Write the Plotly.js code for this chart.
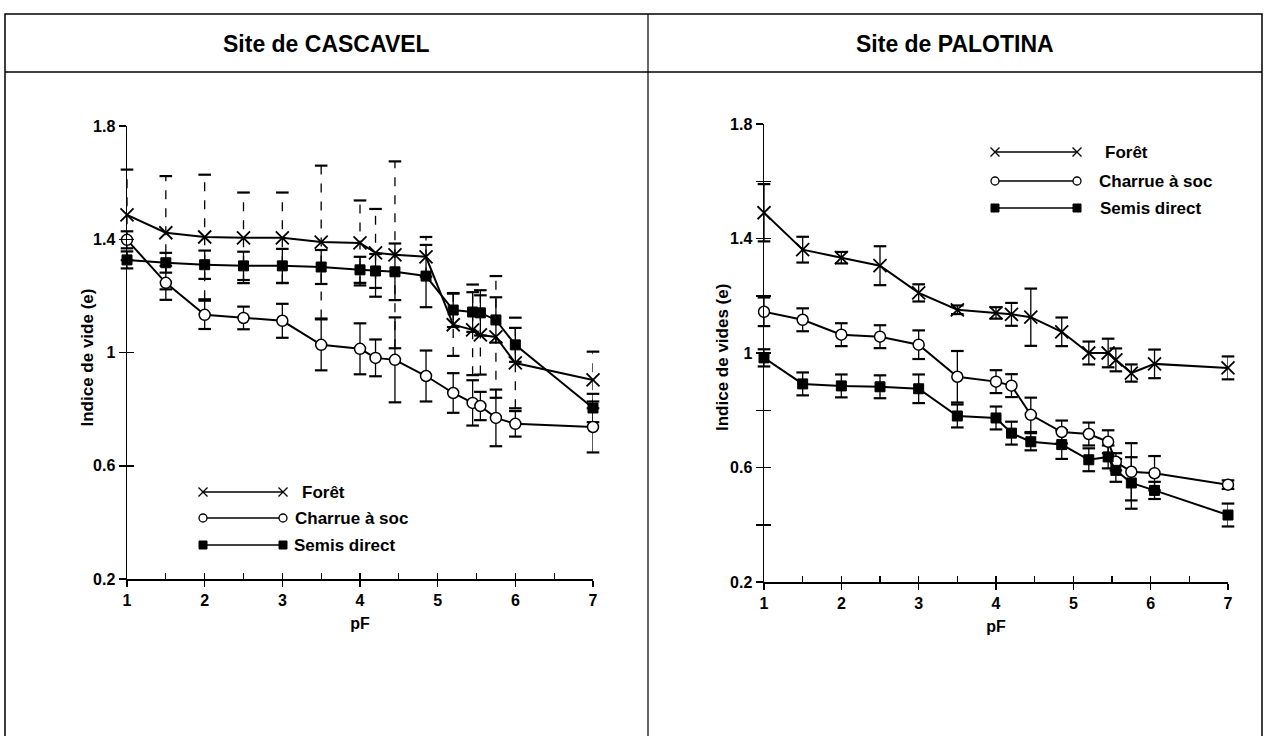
<!DOCTYPE html>
<html>
<head>
<meta charset="utf-8">
<script src="https://cdn.plot.ly/plotly-3.0.1.min.js"></script>
<style>html,body{margin:0;padding:0;background:#fff;}#chart{width:1268px;height:736px;}</style>
</head>
<body>
<div id="chart"></div>
<script>
// ---------------- DATA ----------------
const panelTitles = ["Site de CASCAVEL", "Site de PALOTINA"];
const yTitles = ["Indice de vide (e)", "Indice de vides (e)"];
const xTitle = "pF";
const seriesNames = ["Forêt", "Charrue à soc", "Semis direct"];
const xTickVals = [1, 2, 3, 4, 5, 6, 7];
const xTickText = ["1", "2", "3", "4", "5", "6", "7"];
const yTickValsLeft = [0.2, 0.6, 1, 1.4, 1.8];
const yTickTextLeft = ["0.2", "0.6", "1", "1.4", "1.8"];
const yTickValsRight = [0.2, 0.4, 0.6, 0.8, 1, 1.2, 1.4, 1.6, 1.8];
const yTickTextRight = ["0.2", "", "0.6", "", "1", "", "1.4", "", "1.8"];

// Cascavel
const pfCasc = [1, 1.5, 2, 2.5, 3, 3.5, 4, 4.2, 4.45, 4.85, 5.2, 5.45, 5.55, 5.75, 6.0, 7.0];
const foretCasc = [1.486, 1.423, 1.408, 1.405, 1.405, 1.39, 1.387, 1.352, 1.345, 1.338, 1.098, 1.08, 1.062, 1.055, 0.963, 0.903];
const foretCascErr = [0.16, 0.20, 0.22, 0.16, 0.16, 0.27, 0.15, 0.155, 0.33, 0.07, 0.11, 0.16, 0.14, 0.215, 0.16, 0.10];
const charrueCasc = [1.398, 1.246, 1.133, 1.122, 1.112, 1.027, 1.013, 0.981, 0.974, 0.917, 0.857, 0.822, 0.811, 0.769, 0.748, 0.737];
const charrueCascErr = [0.03, 0.06, 0.05, 0.04, 0.06, 0.09, 0.09, 0.065, 0.15, 0.09, 0.07, 0.08, 0.05, 0.10, 0.045, 0.09];
const semisCasc = [1.327, 1.317, 1.31, 1.306, 1.306, 1.302, 1.292, 1.288, 1.285, 1.27, 1.15, 1.143, 1.14, 1.115, 1.027, 0.804];
const semisCascErr = [0.03, 0.035, 0.05, 0.05, 0.06, 0.06, 0.046, 0.06, 0.10, 0.11, 0.06, 0.07, 0.08, 0.08, 0.06, 0.05];

// Palotina
const pfPalo = [1, 1.5, 2, 2.5, 3, 3.5, 4, 4.2, 4.45, 4.85, 5.2, 5.45, 5.55, 5.75, 6.05, 7.0];
const foretPalo = [1.49, 1.361, 1.333, 1.305, 1.21, 1.151, 1.14, 1.135, 1.125, 1.074, 1.0, 1.0, 0.976, 0.93, 0.962, 0.948];
const foretPaloErr = [0.10, 0.045, 0.02, 0.068, 0.03, 0.015, 0.02, 0.04, 0.10, 0.05, 0.04, 0.05, 0.04, 0.03, 0.05, 0.04];
const charruePalo = [1.144, 1.116, 1.064, 1.057, 1.029, 0.917, 0.90, 0.886, 0.784, 0.724, 0.717, 0.69, 0.62, 0.585, 0.58, 0.54];
const charruePaloErr = [0.05, 0.04, 0.04, 0.04, 0.05, 0.09, 0.04, 0.04, 0.06, 0.04, 0.04, 0.04, 0.03, 0.10, 0.06, 0.015];
const semisPalo = [0.983, 0.892, 0.885, 0.882, 0.875, 0.78, 0.773, 0.72, 0.69, 0.68, 0.627, 0.637, 0.59, 0.546, 0.52, 0.434];
const semisPaloErr = [0.03, 0.04, 0.04, 0.04, 0.05, 0.04, 0.04, 0.04, 0.03, 0.05, 0.04, 0.04, 0.04, 0.09, 0.03, 0.04];

// ---------------- STYLE / LAYOUT CONFIG ----------------
const W = 1268, H = 736;
const FONT = "Liberation Sans, Arial, Helvetica, sans-serif";
const markerStyles = [
  {symbol: "x-thin-open", size: 13, color: "#000", line: {color: "#000", width: 1.8}},
  {symbol: "circle", size: 11, color: "#fff", line: {color: "#000", width: 1.5}},
  {symbol: "square", size: 10, color: "#000", line: {color: "#000", width: 1}}
];
const legendMarkerStyles = [
  {symbol: "x-thin-open", size: 9, color: "#000", line: {color: "#000", width: 1.3}},
  {symbol: "circle", size: 8, color: "#fff", line: {color: "#000", width: 1.3}},
  {symbol: "square", size: 8, color: "#000", line: {color: "#000", width: 1}}
];
const panels = [
  {x0: 127, x1: 593, yTop: 126, yBot: 579, titleX: 87},
  {x0: 764, x1: 1228, yTop: 124, yBot: 582, titleX: 722}
];
const legends = [
  {xa: 203, xb: 283, rows: [492, 518, 545], textX: [300, 293, 292]},
  {xa: 995, xb: 1077, rows: [152, 181, 208], textX: [1103, 1097, 1098]}
];

// ---------------- BUILD ----------------
const traces = [];
function errorBars(x, y, e, xa, ya, dash) {
  const lx = [], ly = [], cx = [], cy = [];
  for (let i = 0; i < x.length; i++) {
    lx.push(x[i], x[i], null); ly.push(y[i] - e[i], y[i] + e[i], null);
    cx.push(x[i], x[i]); cy.push(y[i] - e[i], y[i] + e[i]);
  }
  traces.push({x: lx, y: ly, xaxis: xa, yaxis: ya, mode: "lines", cliponaxis: false,
    line: {color: "#000", width: 1.3, dash: dash}, showlegend: false, hoverinfo: "skip"});
  traces.push({x: cx, y: cy, xaxis: xa, yaxis: ya, mode: "markers", cliponaxis: false,
    marker: {symbol: "line-ew-open", size: 9, color: "#000", line: {color: "#000", width: 2.2}}, showlegend: false, hoverinfo: "skip"});
}
function series(x, y, k, xa, ya) {
  traces.push({x: x, y: y, xaxis: xa, yaxis: ya, name: seriesNames[k], mode: "lines+markers", cliponaxis: false,
    line: {color: "#000", width: 2}, marker: markerStyles[k], showlegend: false});
}

const dataSets = [
  {pf: pfCasc, ys: [foretCasc, charrueCasc, semisCasc], es: [foretCascErr, charrueCascErr, semisCascErr], dash: ["dash", "solid", "solid"], xa: "x", ya: "y"},
  {pf: pfPalo, ys: [foretPalo, charruePalo, semisPalo], es: [foretPaloErr, charruePaloErr, semisPaloErr], dash: ["solid", "solid", "solid"], xa: "x2", ya: "y2"}
];
dataSets.forEach(d => {
  d.ys.forEach((y, k) => errorBars(d.pf, y, d.es[k], d.xa, d.ya, d.dash[k]));
  d.ys.forEach((y, k) => series(d.pf, y, k, d.xa, d.ya));
});

traces.push({x: [], y: [], xaxis: "x3", yaxis: "y3", showlegend: false});
traces.push({x: [], y: [], xaxis: "x4", yaxis: "y4", showlegend: false});

const annotations = [];
legends.forEach(L => {
  L.rows.forEach((ry, k) => {
    traces.push({x: [L.xa, L.xb], y: [ry, ry], xaxis: "x5", yaxis: "y5", mode: "lines+markers", cliponaxis: false,
      line: {color: "#000", width: 1.5}, marker: legendMarkerStyles[k], showlegend: false, hoverinfo: "skip"});
    annotations.push({xref: "x5", yref: "y5", x: L.textX[k], y: ry, text: "<b>" + seriesNames[k] + "</b>",
      showarrow: false, xanchor: "left", yanchor: "middle", font: {family: FONT, size: 17, color: "#000"}});
  });
});

// y-axis titles (rotated), centred on each plot area
panels.forEach((p, i) => {
  annotations.push({xref: "x5", yref: "y5", x: p.titleX, y: (p.yTop + p.yBot) / 2 + 5, text: "<b>" + yTitles[i] + "</b>",
    textangle: -90, showarrow: false, xanchor: "center", yanchor: "middle", font: {family: FONT, size: 17, color: "#000"}});
});

const frameTop = 14, headerBot = 72, frameL = 5, frameR = 1262, divider = 648;
[[frameL, divider], [divider, frameR]].forEach((b, i) => {
  annotations.push({xref: "x5", yref: "y5", x: (b[0] + b[1]) / 2, y: (frameTop + headerBot) / 2 + 1,
    text: "<b>" + panelTitles[i] + "</b>", showarrow: false, xanchor: "center", yanchor: "middle",
    font: {family: FONT, size: 23, color: "#000"}});
});

const px = v => v / W, py = v => 1 - v / H;
const tickFont = {family: FONT, size: 16, color: "#000"};

function xAxisCfg(p) {
  return {domain: [px(p.x0), px(p.x1)], range: [1, 7], tickvals: xTickVals, ticktext: xTickText.map(t => "<b>" + t + "</b>"),
    ticks: "outside", ticklen: 6, tickwidth: 1.5, tickcolor: "#000", showline: true, linewidth: 1.5, linecolor: "#000",
    showgrid: false, zeroline: false, tickfont: tickFont, fixedrange: true,
    title: {text: "<b>" + xTitle + "</b>", font: {family: FONT, size: 16, color: "#000"}, standoff: 10}};
}
function yAxisCfg(p, vals, txt) {
  return {domain: [py(p.yBot), py(p.yTop)], range: [0.2, 1.8], tickvals: vals, ticktext: txt.map(t => t ? "<b>" + t + "</b>" : ""),
    ticks: "outside", ticklen: 7, tickwidth: 1.5, tickcolor: "#000", showline: true, linewidth: 1.5, linecolor: "#000",
    showgrid: false, zeroline: false, tickfont: tickFont, fixedrange: true};
}
function innerX(base, anchor) {
  return {overlaying: base, anchor: anchor, range: [1, 7], dtick: 0.5, tick0: 1, ticks: "inside", ticklen: 6, tickwidth: 1.3,
    tickcolor: "#000", showticklabels: false, showline: false, showgrid: false, zeroline: false, fixedrange: true};
}
function innerY(base, anchor, dt) {
  return {overlaying: base, anchor: anchor, range: [0.2, 1.8], dtick: dt, tick0: 0.2, ticks: "inside", ticklen: 7, tickwidth: 1.5,
    tickcolor: "#000", showticklabels: false, showline: false, showgrid: false, zeroline: false, fixedrange: true};
}

const layout = {
  width: W, height: H, margin: {l: 0, r: 0, t: 0, b: 0}, paper_bgcolor: "#fff", plot_bgcolor: "rgba(0,0,0,0)",
  showlegend: false, font: {family: FONT, color: "#000"},
  xaxis: Object.assign(xAxisCfg(panels[0]), {anchor: "y"}),
  yaxis: Object.assign(yAxisCfg(panels[0], yTickValsLeft, yTickTextLeft), {anchor: "x"}),
  xaxis2: Object.assign(xAxisCfg(panels[1]), {anchor: "y2"}),
  yaxis2: Object.assign(yAxisCfg(panels[1], yTickValsRight, yTickTextRight), {anchor: "x2"}),
  xaxis3: innerX("x", "y3"),
  yaxis3: innerY("y", "x3", 0.4),
  xaxis4: innerX("x2", "y4"),
  yaxis4: innerY("y2", "x4", 0.2),
  xaxis5: {domain: [0, 1], range: [0, W], visible: false, fixedrange: true, anchor: "y5"},
  yaxis5: {domain: [0, 1], range: [H, 0], visible: false, fixedrange: true, anchor: "x5"},
  annotations: annotations,
  shapes: [
    {type: "rect", xref: "paper", yref: "paper", x0: px(frameL), x1: px(frameR), y0: py(H + 10), y1: py(frameTop), line: {color: "#000", width: 1.5}},
    {type: "line", xref: "paper", yref: "paper", x0: px(frameL), x1: px(frameR), y0: py(headerBot), y1: py(headerBot), line: {color: "#000", width: 1.5}},
    {type: "line", xref: "paper", yref: "paper", x0: px(divider), x1: px(divider), y0: py(H + 10), y1: py(frameTop), line: {color: "#000", width: 1.2}}
  ]
};

Plotly.newPlot("chart", traces, layout, {staticPlot: true, displayModeBar: false});
</script>
</body>
</html>
